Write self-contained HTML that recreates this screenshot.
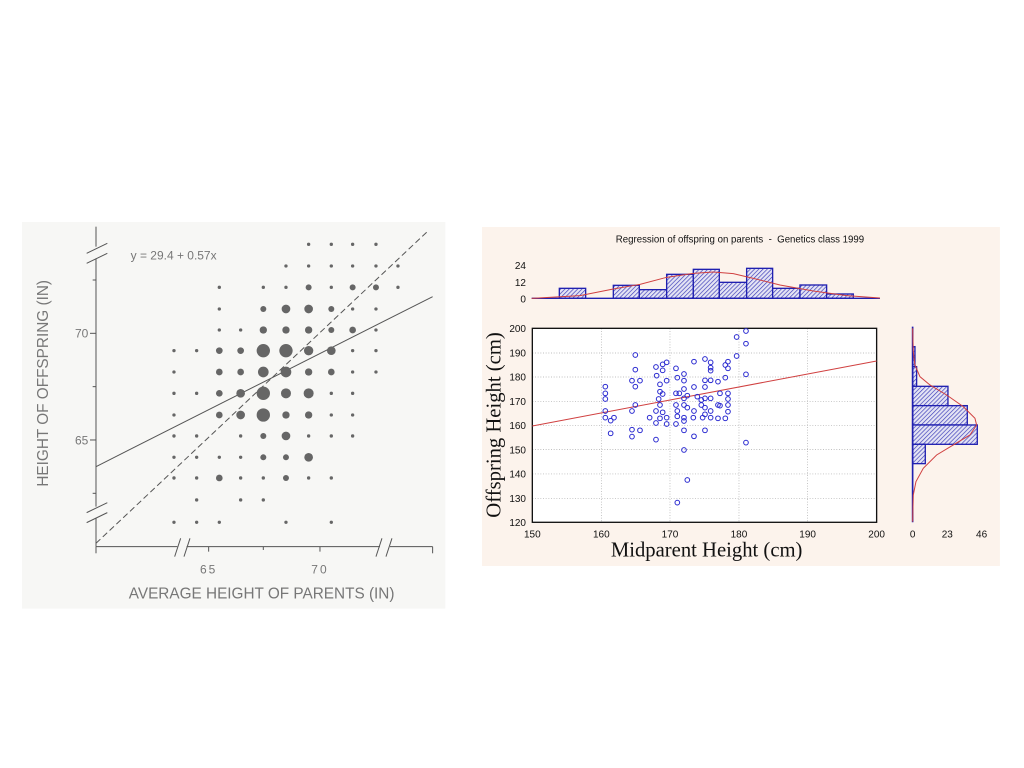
<!DOCTYPE html>
<html><head><meta charset="utf-8"><style>
html,body{margin:0;padding:0;background:#fff;}
svg{display:block;}
</style></head><body>
<svg width="1024" height="768" viewBox="0 0 1024 768" xmlns="http://www.w3.org/2000/svg">
<defs>
<pattern id="h" patternUnits="userSpaceOnUse" width="9" height="9" patternTransform="rotate(45)">
<rect width="9" height="9" fill="#e4e4f4"/><line x1="0" y1="0" x2="0" y2="9" stroke="#3a3ab8" stroke-width="4"/>
</pattern>
</defs>
<rect width="1024" height="768" fill="#fff"/>
<!-- LEFT PANEL -->
<g transform="translate(20,220) scale(0.3333)">
<rect x="6" y="6" width="1270" height="1160" fill="#f7f7f5"/>
<g stroke="#555" stroke-width="3" fill="none">
<line x1="228" y1="20" x2="228" y2="80"/><line x1="228" y1="115" x2="228" y2="860"/><line x1="228" y1="895" x2="228" y2="980"/>
<line x1="200" y1="100" x2="262" y2="70"/><line x1="200" y1="130" x2="262" y2="100"/>
<line x1="200" y1="878" x2="262" y2="848"/><line x1="200" y1="908" x2="262" y2="878"/>
<line x1="228" y1="980" x2="472" y2="980"/><line x1="500" y1="980" x2="1080" y2="980"/><line x1="1110" y1="980" x2="1238" y2="980"/>
<line x1="1238" y1="980" x2="1238" y2="1000"/>
<line x1="464" y1="1010" x2="482" y2="955"/><line x1="492" y1="1010" x2="510" y2="955"/>
<line x1="1068" y1="1010" x2="1086" y2="955"/><line x1="1098" y1="1010" x2="1116" y2="955"/>
<line x1="228" y1="980" x2="228" y2="1000"/><line x1="566" y1="980" x2="566" y2="995"/><line x1="900" y1="980" x2="900" y2="995"/><line x1="730" y1="980" x2="730" y2="990"/>
<line x1="210" y1="340" x2="228" y2="340"/><line x1="210" y1="660" x2="228" y2="660"/>
<line x1="218" y1="180" x2="228" y2="180"/><line x1="218" y1="500" x2="228" y2="500"/><line x1="218" y1="820" x2="228" y2="820"/>
<line x1="228" y1="740" x2="1238" y2="230"/>
<line x1="228" y1="970" x2="1222" y2="35" stroke-dasharray="18,10"/>
</g>
<g fill="#666">
<circle cx="866" cy="73" r="5"/><circle cx="934" cy="73" r="5"/><circle cx="998" cy="73" r="5"/><circle cx="1068" cy="73" r="5"/>
<circle cx="798" cy="138" r="5"/><circle cx="866" cy="138" r="5"/><circle cx="934" cy="138" r="5"/><circle cx="998" cy="138" r="5"/><circle cx="1068" cy="138" r="5"/><circle cx="1134" cy="138" r="5"/>
<circle cx="598" cy="202" r="5"/><circle cx="730" cy="202" r="5"/><circle cx="798" cy="202" r="5"/><circle cx="866" cy="202" r="9"/><circle cx="934" cy="202" r="5"/><circle cx="998" cy="202" r="9"/><circle cx="1068" cy="202" r="9"/><circle cx="1134" cy="202" r="5"/>
<circle cx="598" cy="267" r="5"/><circle cx="730" cy="267" r="9"/><circle cx="798" cy="267" r="13"/><circle cx="866" cy="267" r="13"/><circle cx="934" cy="267" r="9"/><circle cx="998" cy="267" r="5"/><circle cx="1068" cy="267" r="5"/>
<circle cx="598" cy="330" r="5"/><circle cx="662" cy="330" r="5"/><circle cx="730" cy="330" r="11"/><circle cx="798" cy="330" r="11"/><circle cx="866" cy="330" r="11"/><circle cx="934" cy="330" r="9"/><circle cx="998" cy="330" r="10"/><circle cx="1068" cy="330" r="5"/>
<circle cx="462" cy="392" r="5"/><circle cx="530" cy="392" r="5"/><circle cx="598" cy="392" r="10"/><circle cx="662" cy="392" r="10"/><circle cx="730" cy="392" r="20"/><circle cx="798" cy="392" r="20"/><circle cx="866" cy="392" r="14"/><circle cx="934" cy="392" r="13"/><circle cx="998" cy="392" r="5"/><circle cx="1068" cy="392" r="5"/>
<circle cx="462" cy="456" r="5"/><circle cx="598" cy="456" r="10"/><circle cx="662" cy="456" r="10"/><circle cx="730" cy="456" r="16"/><circle cx="798" cy="456" r="16"/><circle cx="866" cy="456" r="11"/><circle cx="934" cy="456" r="10"/><circle cx="998" cy="456" r="5"/><circle cx="1068" cy="456" r="5"/>
<circle cx="462" cy="520" r="5"/><circle cx="530" cy="520" r="5"/><circle cx="598" cy="520" r="10"/><circle cx="662" cy="520" r="13"/><circle cx="730" cy="520" r="20"/><circle cx="798" cy="520" r="15"/><circle cx="866" cy="520" r="15"/><circle cx="934" cy="520" r="5"/><circle cx="998" cy="520" r="5"/>
<circle cx="462" cy="585" r="5"/><circle cx="598" cy="585" r="10"/><circle cx="662" cy="585" r="13"/><circle cx="730" cy="585" r="20"/><circle cx="798" cy="585" r="11"/><circle cx="866" cy="585" r="11"/><circle cx="934" cy="585" r="5"/><circle cx="998" cy="585" r="5"/>
<circle cx="462" cy="648" r="5"/><circle cx="530" cy="648" r="5"/><circle cx="662" cy="648" r="5"/><circle cx="730" cy="648" r="9"/><circle cx="798" cy="648" r="13"/><circle cx="866" cy="648" r="5"/><circle cx="934" cy="648" r="5"/><circle cx="998" cy="648" r="5"/>
<circle cx="462" cy="712" r="5"/><circle cx="530" cy="712" r="5"/><circle cx="598" cy="712" r="5"/><circle cx="662" cy="712" r="5"/><circle cx="730" cy="712" r="9"/><circle cx="798" cy="712" r="9"/><circle cx="866" cy="712" r="13"/>
<circle cx="462" cy="774" r="5"/><circle cx="530" cy="774" r="5"/><circle cx="598" cy="774" r="10"/><circle cx="662" cy="774" r="5"/><circle cx="730" cy="774" r="5"/><circle cx="798" cy="774" r="9"/><circle cx="866" cy="774" r="5"/><circle cx="934" cy="774" r="5"/>
<circle cx="530" cy="840" r="5"/><circle cx="662" cy="840" r="5"/><circle cx="730" cy="840" r="5"/>
<circle cx="462" cy="907" r="5"/><circle cx="530" cy="907" r="5"/><circle cx="598" cy="907" r="5"/><circle cx="798" cy="907" r="5"/><circle cx="934" cy="907" r="5"/>
</g>
<g fill="#777" font-family="Liberation Sans, sans-serif">
<text x="332" y="118" font-size="36">y = 29.4 + 0.57x</text>
<text x="205" y="353" font-size="36" text-anchor="end">70</text>
<text x="205" y="673" font-size="36" text-anchor="end">65</text>
<text x="566" y="1060" font-size="36" text-anchor="middle" letter-spacing="6">65</text>
<text x="900" y="1060" font-size="36" text-anchor="middle" letter-spacing="6">70</text>
<text x="725" y="1135" font-size="46" text-anchor="middle">AVERAGE HEIGHT OF PARENTS (IN)</text>
<text transform="translate(84,490) rotate(-90)" font-size="46" text-anchor="middle">HEIGHT OF OFFSPRING (IN)</text>
</g>
</g>
<!-- RIGHT PANEL -->
<g transform="translate(480,225) scale(0.3333)">
<rect x="6" y="6" width="1554" height="1017" fill="#fcf3ec"/>
<text x="780" y="52" font-family="Liberation Sans, sans-serif" font-size="29" text-anchor="middle" fill="#111">Regression of offspring on parents &#160;- &#160;Genetics class 1999</text>
<g font-family="Liberation Sans, sans-serif" font-size="30" fill="#111" text-anchor="end">
<text x="138" y="132">24</text><text x="138" y="183">12</text><text x="138" y="232">0</text>
</g>
<g fill="url(#h)" stroke="#2020b0" stroke-width="4">
<rect x="238" y="190" width="79" height="30"/>
<rect x="400" y="181" width="78" height="39"/>
<rect x="478" y="194" width="82" height="26"/>
<rect x="560" y="148" width="80" height="72"/>
<rect x="640" y="133" width="78" height="87"/>
<rect x="718" y="172" width="82" height="48"/>
<rect x="800" y="130" width="78" height="90"/>
<rect x="878" y="190" width="82" height="30"/>
<rect x="960" y="180" width="80" height="40"/>
<rect x="1040" y="207" width="80" height="13"/>
</g>
<line x1="155" y1="220" x2="1200" y2="220" stroke="#2020b0" stroke-width="4"/>
<polyline fill="none" stroke="#d04040" stroke-width="3" points="155,220 300,212 400,192 480,178 560,157 640,145 700,141 760,146 820,160 900,180 1000,198 1100,212 1200,219"/>
<rect x="157" y="310" width="1033" height="582" fill="#fff"/>
<g stroke="#aaa" stroke-width="2" stroke-dasharray="3,5">
<line x1="157" y1="384" x2="1190" y2="384"/><line x1="157" y1="456" x2="1190" y2="456"/><line x1="157" y1="529" x2="1190" y2="529"/><line x1="157" y1="601" x2="1190" y2="601"/><line x1="157" y1="674" x2="1190" y2="674"/><line x1="157" y1="747" x2="1190" y2="747"/><line x1="157" y1="820" x2="1190" y2="820"/>
<line x1="364" y1="310" x2="364" y2="892"/><line x1="570" y1="310" x2="570" y2="892"/><line x1="777" y1="310" x2="777" y2="892"/><line x1="983" y1="310" x2="983" y2="892"/>
</g>
<rect x="157" y="310" width="1033" height="582" fill="none" stroke="#111" stroke-width="4"/>
<line x1="157" y1="603" x2="1190" y2="408" stroke="#d04040" stroke-width="3"/>
<g fill="none" stroke="#2a2ad0" stroke-width="3">
<circle cx="376" cy="485" r="7"/><circle cx="376" cy="505" r="7"/><circle cx="376" cy="522" r="7"/><circle cx="376" cy="558" r="7"/><circle cx="376" cy="578" r="7"/><circle cx="392" cy="587" r="7"/><circle cx="402" cy="578" r="7"/><circle cx="392" cy="625" r="7"/>
<circle cx="466" cy="390" r="7"/><circle cx="466" cy="434" r="7"/><circle cx="466" cy="485" r="7"/><circle cx="466" cy="540" r="7"/><circle cx="456" cy="467" r="7"/><circle cx="456" cy="558" r="7"/><circle cx="480" cy="467" r="7"/><circle cx="456" cy="614" r="7"/><circle cx="456" cy="635" r="7"/><circle cx="480" cy="616" r="7"/>
<circle cx="509" cy="578" r="7"/><circle cx="528" cy="426" r="7"/><circle cx="530" cy="452" r="7"/><circle cx="540" cy="478" r="7"/><circle cx="548" cy="418" r="7"/><circle cx="548" cy="436" r="7"/><circle cx="560" cy="412" r="7"/><circle cx="560" cy="467" r="7"/><circle cx="540" cy="500" r="7"/><circle cx="548" cy="507" r="7"/><circle cx="536" cy="522" r="7"/><circle cx="540" cy="540" r="7"/><circle cx="528" cy="558" r="7"/><circle cx="548" cy="562" r="7"/><circle cx="540" cy="580" r="7"/><circle cx="560" cy="578" r="7"/><circle cx="528" cy="594" r="7"/><circle cx="560" cy="597" r="7"/><circle cx="528" cy="644" r="7"/>
<circle cx="588" cy="430" r="7"/><circle cx="592" cy="458" r="7"/><circle cx="612" cy="447" r="7"/><circle cx="612" cy="467" r="7"/><circle cx="588" cy="505" r="7"/><circle cx="612" cy="492" r="7"/><circle cx="598" cy="505" r="7"/><circle cx="588" cy="540" r="7"/><circle cx="592" cy="558" r="7"/><circle cx="592" cy="574" r="7"/><circle cx="612" cy="520" r="7"/><circle cx="612" cy="540" r="7"/><circle cx="612" cy="578" r="7"/><circle cx="612" cy="588" r="7"/><circle cx="622" cy="512" r="7"/><circle cx="622" cy="548" r="7"/><circle cx="588" cy="597" r="7"/><circle cx="612" cy="616" r="7"/><circle cx="612" cy="675" r="7"/><circle cx="622" cy="765" r="7"/><circle cx="592" cy="833" r="7"/>
<circle cx="642" cy="410" r="7"/><circle cx="642" cy="486" r="7"/><circle cx="642" cy="558" r="7"/><circle cx="642" cy="634" r="7"/><circle cx="664" cy="525" r="7"/><circle cx="664" cy="540" r="7"/><circle cx="675" cy="402" r="7"/><circle cx="675" cy="466" r="7"/><circle cx="675" cy="486" r="7"/><circle cx="675" cy="520" r="7"/><circle cx="675" cy="548" r="7"/><circle cx="668" cy="578" r="7"/><circle cx="675" cy="568" r="7"/><circle cx="640" cy="578" r="7"/><circle cx="652" cy="515" r="7"/>
<circle cx="692" cy="412" r="7"/><circle cx="692" cy="428" r="7"/><circle cx="692" cy="437" r="7"/><circle cx="692" cy="466" r="7"/><circle cx="692" cy="520" r="7"/><circle cx="692" cy="558" r="7"/><circle cx="692" cy="578" r="7"/><circle cx="675" cy="616" r="7"/>
<circle cx="714" cy="470" r="7"/><circle cx="714" cy="540" r="7"/><circle cx="714" cy="580" r="7"/><circle cx="720" cy="505" r="7"/><circle cx="720" cy="542" r="7"/><circle cx="736" cy="420" r="7"/><circle cx="744" cy="410" r="7"/><circle cx="744" cy="430" r="7"/><circle cx="736" cy="458" r="7"/><circle cx="744" cy="505" r="7"/><circle cx="744" cy="522" r="7"/><circle cx="744" cy="540" r="7"/><circle cx="744" cy="560" r="7"/><circle cx="736" cy="580" r="7"/>
<circle cx="770" cy="336" r="7"/><circle cx="770" cy="393" r="7"/><circle cx="798" cy="318" r="7"/><circle cx="798" cy="356" r="7"/><circle cx="798" cy="448" r="7"/><circle cx="798" cy="653" r="7"/>
</g>
<g font-family="Liberation Sans, sans-serif" font-size="30" fill="#111">
<g text-anchor="end">
<text x="138" y="321">200</text><text x="138" y="395">190</text><text x="138" y="467">180</text><text x="138" y="540">170</text><text x="138" y="612">160</text><text x="138" y="685">150</text><text x="138" y="758">140</text><text x="138" y="831">130</text><text x="138" y="903">120</text>
</g>
<g text-anchor="middle">
<text x="157" y="937">150</text><text x="364" y="937">160</text><text x="570" y="937">170</text><text x="777" y="937">180</text><text x="983" y="937">190</text><text x="1190" y="937">200</text>
<text x="1298" y="937">0</text><text x="1402" y="937">23</text><text x="1505" y="937">46</text>
</g>
</g>
<text x="680" y="995" font-family="Liberation Serif, serif" font-size="62" text-anchor="middle" fill="#111">Midparent Height (cm)</text>
<text transform="translate(62,600) rotate(-90)" font-family="Liberation Serif, serif" font-size="62" text-anchor="middle" fill="#111">Offspring Height (cm)</text>
<g fill="url(#h)" stroke="#2020b0" stroke-width="4">
<rect x="1298" y="365" width="7" height="60"/>
<rect x="1298" y="425" width="12" height="59"/>
<rect x="1298" y="484" width="106" height="58"/>
<rect x="1298" y="542" width="164" height="58"/>
<rect x="1298" y="600" width="194" height="58"/>
<rect x="1298" y="658" width="38" height="58"/>
</g>
<line x1="1298" y1="305" x2="1298" y2="892" stroke="#2020b0" stroke-width="5"/>
<polyline fill="none" stroke="#d04040" stroke-width="3" points="1298,310 1300,380 1305,420 1320,455 1350,480 1400,510 1450,545 1485,580 1490,600 1470,630 1420,660 1370,690 1330,730 1308,770 1300,810 1298,890"/>
</g>
</svg>
</body></html>
